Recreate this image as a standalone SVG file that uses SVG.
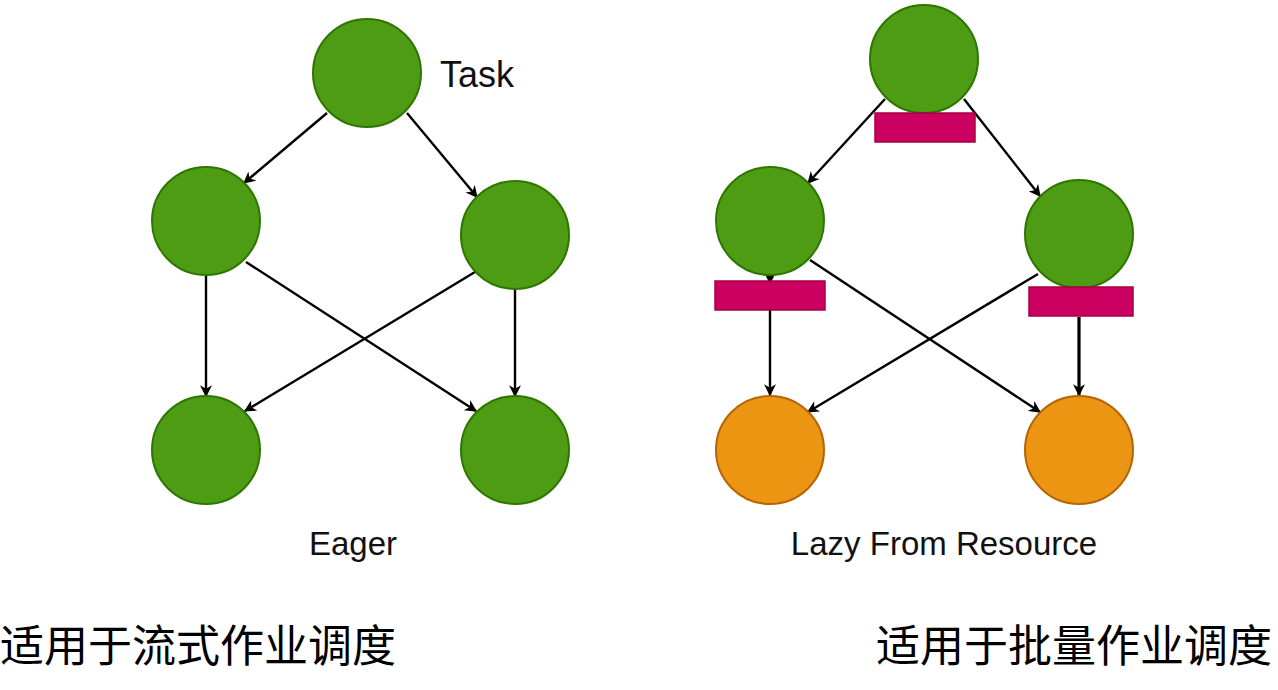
<svg xmlns="http://www.w3.org/2000/svg" width="1278" height="690" viewBox="0 0 1278 690">
<defs>
<marker id="arr" viewBox="0 0 10 10" refX="9" refY="5" markerWidth="13" markerHeight="12" markerUnits="userSpaceOnUse" orient="auto">
<path d="M0,0 L10,5 L0,10 L3,5 Z" fill="#000"/>
</marker>
<style>
.g{fill:#4E9C14;stroke:#2D7600;stroke-width:2}
.o{fill:#EC9512;stroke:#B46504;stroke-width:2}
.p{fill:#CC0060;stroke:#A50040;stroke-width:1.5}
.e{stroke:#000;stroke-width:2.4;fill:none;marker-end:url(#arr)}
.lbl{font-family:"Liberation Sans",Arial,sans-serif;font-size:33px;fill:#111}
.cn{font-family:"Noto Sans CJK SC","Noto Sans",sans-serif;font-size:44px;fill:#000}
</style>
</defs>
<rect width="1278" height="690" fill="#fff"/>
<g id="connectors">
<line class="e" x1="327" y1="113" x2="244" y2="183"/>
<line class="e" x1="407" y1="113" x2="477" y2="197"/>
<line class="e" x1="206" y1="276" x2="206" y2="396"/>
<line class="e" x1="515" y1="289" x2="515" y2="396"/>
<line class="e" x1="246" y1="262" x2="476" y2="411"/>
<line class="e" x1="475" y1="272" x2="245" y2="411"/>
<line class="e" x1="885" y1="99" x2="808" y2="183"/>
<line class="e" x1="964" y1="99" x2="1040" y2="196"/>
<line class="e" x1="770" y1="266" x2="770" y2="283"/>
<line class="e" x1="770" y1="310" x2="770" y2="395"/>
<line class="e" x1="1079" y1="317" x2="1079" y2="395" style="stroke-width:3.2"/>
<line class="e" x1="810" y1="260" x2="1040" y2="412"/>
<line class="e" x1="1038" y1="274" x2="808" y2="412"/>
</g>
<g id="eager-top"><circle class="g" cx="367" cy="73" r="54"/></g>
<g id="eager-midleft"><circle class="g" cx="206" cy="221" r="54"/></g>
<g id="eager-midright"><circle class="g" cx="515" cy="235" r="54"/></g>
<g id="eager-botleft"><circle class="g" cx="206" cy="450" r="54"/></g>
<g id="eager-botright"><circle class="g" cx="515" cy="450" r="54"/></g>
<g id="lazy-top"><circle class="g" cx="924" cy="59" r="54"/><rect class="p" x="875" y="113" width="100" height="29"/></g>
<g id="lazy-midleft"><circle class="g" cx="770" cy="221" r="54"/><rect class="p" x="715" y="281" width="110" height="29"/></g>
<g id="lazy-midright"><circle class="g" cx="1079" cy="234" r="54"/><rect class="p" x="1029" y="287" width="104" height="29"/></g>
<g id="lazy-botleft"><circle class="o" cx="770" cy="450" r="54"/></g>
<g id="lazy-botright"><circle class="o" cx="1079" cy="450" r="54"/></g>
<g id="labels">
<text class="lbl" x="440" y="87" style="font-size:36px">Task</text>
<text class="lbl" x="353" y="555" text-anchor="middle">Eager</text>
<text class="lbl" x="944" y="555" text-anchor="middle">Lazy From Resource</text>
<text class="cn" x="0" y="662">适用于流式作业调度</text>
<text class="cn" x="876" y="662">适用于批量作业调度</text>
</g>
</svg>
